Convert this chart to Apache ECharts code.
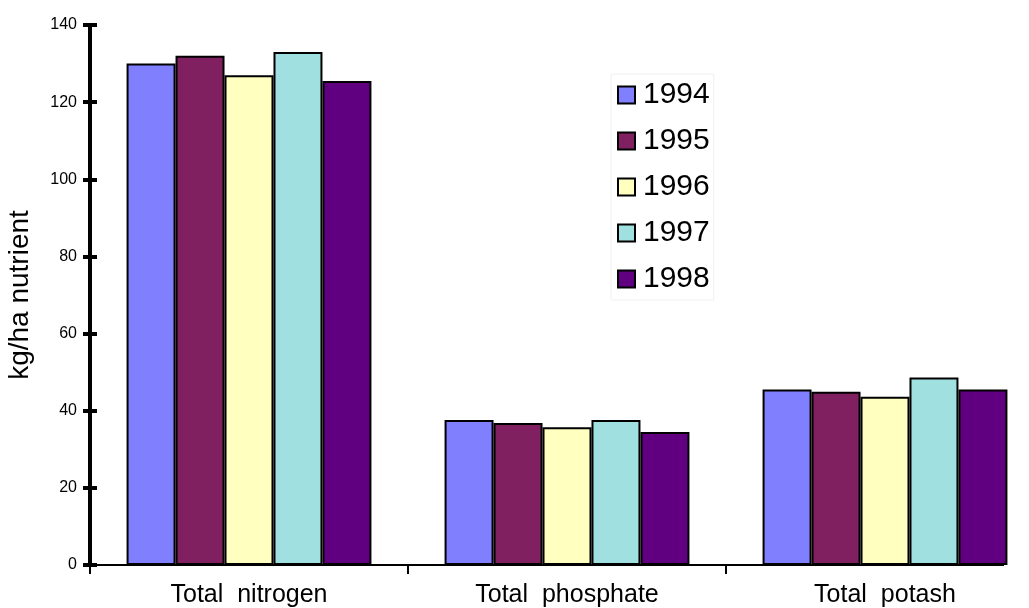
<!DOCTYPE html>
<html>
<head>
<meta charset="utf-8">
<script src="https://cdn.jsdelivr.net/npm/echarts@6/dist/echarts.min.js"></script>
<style>
  html, body { margin: 0; padding: 0; background: #ffffff; }
  #chart { width: 1029px; height: 608px; }
</style>
</head>
<body>
<div id="chart"></div>
<script>
// Nutrient categories on the x axis
const categories = ['Total  nitrogen', 'Total  phosphate', 'Total  potash'];

// Application rates (kg/ha) per year, one value per category
const years = ['1994', '1995', '1996', '1997', '1998'];
const values1994 = [130, 37.6, 45.5];
const values1995 = [132, 36.8, 44.9];
const values1996 = [127, 35.7, 43.6];
const values1997 = [133, 37.6, 48.6];
const values1998 = [125.5, 34.5, 45.5];
const seriesValues = [values1994, values1995, values1996, values1997, values1998];

const yearColors = ['#8080FF', '#802060', '#FFFFC0', '#A0E0E0', '#600080'];

// Value axis scale
const yMin = 0;
const yMax = 140;
const yStep = 20;

const font = 'Arial, "Liberation Sans", Helvetica, sans-serif';

const chart = echarts.init(document.getElementById('chart'), null, { renderer: 'canvas' });

const series = years.map((year, i) => ({
  name: year,
  type: 'bar',
  data: seriesValues[i],
  yAxisIndex: 0,
  barGap: '0%',
  barCategoryGap: '23%',
  itemStyle: { color: yearColors[i], borderColor: '#000000', borderWidth: 2 },
  emphasis: { disabled: true }
}));

chart.setOption({
  animation: false,
  backgroundColor: '#ffffff',
  grid: { left: 90, right: -15, top: 25, bottom: 43, containLabel: false, outerBoundsMode: 'none' },
  legend: {
    orient: 'vertical',
    left: 611,
    top: 74,
    padding: [6, 4, 6, 6],
    borderColor: '#f0f0f0',
    borderWidth: 1,
    itemWidth: 17,
    itemHeight: 17,
    itemGap: 16,
    icon: 'rect',
    textStyle: { fontFamily: font, fontSize: 30, color: '#000000', lineHeight: 30, padding: [0, 0, 0, 3] },
    data: years
  },
  xAxis: {
    type: 'category',
    data: categories,
    boundaryGap: true,
    axisLine: { show: false },
    axisTick: { show: true, alignWithLabel: false, length: 9, lineStyle: { color: '#000000', width: 2 } },
    axisLabel: { fontFamily: font, fontSize: 25, color: '#000000', margin: 18 },
    splitLine: { show: false }
  },
  yAxis: [
    {
      type: 'value',
      position: 'left',
      min: yMin,
      max: yMax,
      interval: yStep,
      name: 'kg/ha nutrient',
      nameLocation: 'middle',
      nameGap: 56,
      nameRotate: 90,
      nameTextStyle: { fontFamily: font, fontSize: 28, color: '#000000' },
      axisLine: { show: true, lineStyle: { color: '#000000', width: 4 } },
      axisTick: { show: true, inside: false, length: 7, lineStyle: { color: '#000000', width: 4 } },
      axisLabel: { fontFamily: font, fontSize: 16, color: '#000000', margin: 13 },
      splitLine: { show: false }
    },
    {
      // inner half of the crossing tick marks
      type: 'value',
      position: 'left',
      offset: 0,
      min: yMin,
      max: yMax,
      interval: yStep,
      axisLine: { show: false },
      axisTick: { show: true, inside: true, length: 7, lineStyle: { color: '#000000', width: 4 } },
      axisLabel: { show: false },
      splitLine: { show: false }
    }
  ],
  graphic: [
    {
      // category axis baseline
      type: 'line',
      silent: true,
      z: 50,
      shape: { x1: 90, y1: 565, x2: 1004, y2: 565 },
      style: { stroke: '#000000', lineWidth: 2 }
    }
  ],
  series: series
});
</script>
</body>
</html>
